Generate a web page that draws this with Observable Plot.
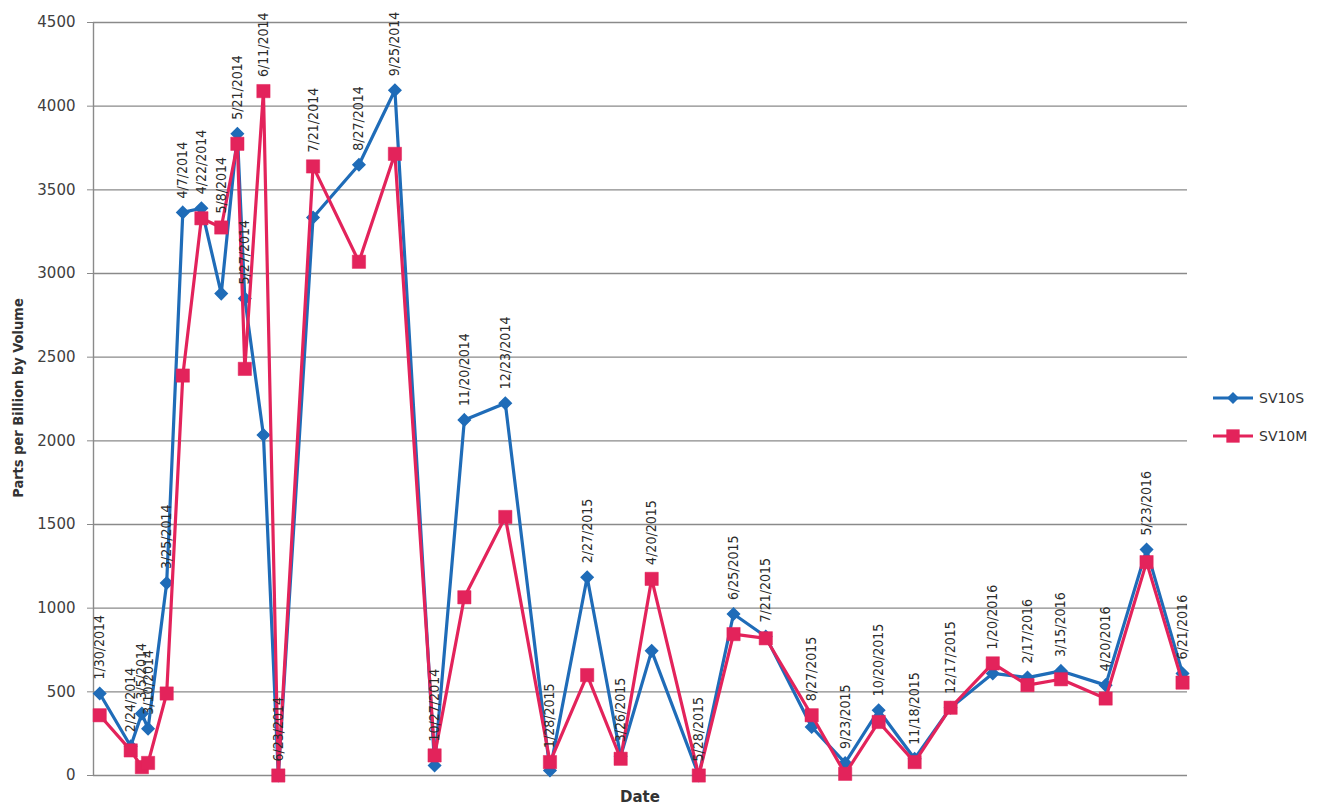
<!DOCTYPE html>
<html>
<head>
<meta charset="utf-8">
<script src="https://cdn.jsdelivr.net/npm/d3@7"></script>
<script src="https://cdn.jsdelivr.net/npm/@observablehq/plot@0.6"></script>
<style>
  html, body { margin: 0; padding: 0; background: #fff; }
  #wrap { position: relative; width: 1327px; height: 809px; overflow: hidden; }
  #chart svg { display: block; }
  .ytitle { position: absolute; left: 18px; top: 398px; transform: translate(-50%, -50%) rotate(-90deg);
            white-space: nowrap; font-family: "DejaVu Sans Condensed", "Liberation Sans Narrow", sans-serif;
            font-weight: bold; font-size: 14.5px; color: #333; }
  .xtitle { position: absolute; left: 640px; top: 797px; transform: translate(-50%, -50%);
            font-family: "DejaVu Sans", sans-serif; font-weight: bold; font-size: 15px; color: #333; }
  #legend { position: absolute; left: 1213px; top: 386px; font-family: "DejaVu Sans", sans-serif;
            font-size: 14px; color: #333; }
  .item { display: flex; align-items: center; height: 24px; margin-bottom: 14px; }
  .item svg { margin-right: 4px; }
</style>
</head>
<body>
<div id="wrap">
  <div id="chart"></div>
  <div class="ytitle">Parts per Billion by Volume</div>
  <div class="xtitle">Date</div>
  <div id="legend"></div>
</div>
<script>
const dates = ["1/30/2014","2/24/2014","3/5/2014","3/10/2014","3/25/2014","4/7/2014","4/22/2014","5/8/2014",
  "5/21/2014","5/27/2014","6/11/2014","6/23/2014","7/21/2014","8/27/2014","9/25/2014","10/27/2014",
  "11/20/2014","12/23/2014","1/28/2015","2/27/2015","3/26/2015","4/20/2015","5/28/2015","6/25/2015",
  "7/21/2015","8/27/2015","9/23/2015","10/20/2015","11/18/2015","12/17/2015","1/20/2016","2/17/2016",
  "3/15/2016","4/20/2016","5/23/2016","6/21/2016"];
const sv10s = [490, 175, 370, 280, 1150, 3365, 3390, 2880, 3835, 2850, 2035, 0, 3335, 3650, 4095, 60,
  2125, 2225, 30, 1185, 115, 745, 0, 965, 830, 290, 75, 390, 100, 405, 610, 585, 625, 540, 1350, 610];
const sv10m = [360, 150, 50, 75, 490, 2390, 3330, 3275, 3775, 2430, 4090, 0, 3640, 3070, 3715, 120,
  1065, 1545, 80, 600, 100, 1175, 0, 845, 820, 360, 10, 320, 80, 405, 670, 540, 575, 460, 1275, 555];
const yTicks = [0, 500, 1000, 1500, 2000, 2500, 3000, 3500, 4000, 4500];
const seriesNames = ["SV10S", "SV10M"];
const seriesColors = ["#1f6cb8", "#e3235b"];
const xRange = ["1/25/2014", "6/25/2016"];

const parse = d3.utcParse("%m/%d/%Y");
const rows = dates.map((d, i) => ({
  label: d, date: parse(d), s: sv10s[i], m: sv10m[i], top: Math.max(sv10s[i], sv10m[i])
}));
const xDomain = xRange.map(parse);

const chart = Plot.plot({
  width: 1200, height: 809,
  marginLeft: 93, marginRight: 13, marginTop: 22, marginBottom: 34,
  x: {type: "utc", domain: xDomain, axis: null},
  y: {domain: [0, 4500], axis: null},
  style: {background: "#fff", fontFamily: "DejaVu Sans, sans-serif"},
  marks: [
    Plot.gridY(yTicks, {stroke: "#8a8a8a", strokeOpacity: 1, strokeWidth: 1.4}),
    Plot.ruleX([xDomain[0]], {stroke: "#8a8a8a", strokeWidth: 1.4}),
    Plot.axisY(yTicks, {tickSize: 6, tickPadding: 12, label: null, stroke: "#8a8a8a",
      tickFormat: d3.format("d"),
      fill: "#404040", fontSize: 15, fontFamily: "DejaVu Sans, sans-serif"}),
    Plot.line(rows, {x: "date", y: "s", stroke: seriesColors[0], strokeWidth: 3.2}),
    Plot.dot(rows, {x: "date", y: "s", symbol: "diamond2", r: 5.4, fill: seriesColors[0], stroke: seriesColors[0]}),
    Plot.line(rows, {x: "date", y: "m", stroke: seriesColors[1], strokeWidth: 3.2}),
    Plot.dot(rows, {x: "date", y: "m", symbol: "square", r: 7.5, fill: seriesColors[1], stroke: seriesColors[1], strokeWidth: 0.5}),
    Plot.text(rows, {x: "date", y: "top", text: "label", rotate: -90, textAnchor: "start", dy: -14,
      fontSize: 14, fontFamily: "DejaVu Sans Condensed, Liberation Sans Narrow, sans-serif", fill: "#2b2b2b"})
  ]
});
document.getElementById("chart").appendChild(chart);

const legend = d3.select("#legend");
seriesNames.forEach((name, i) => {
  const item = legend.append("div").attr("class", "item");
  const svg = item.append("svg").attr("width", 42).attr("height", 20);
  svg.append("line").attr("x1", 0).attr("x2", 40).attr("y1", 10).attr("y2", 10)
    .attr("stroke", seriesColors[i]).attr("stroke-width", 3.2);
  if (i === 0) {
    svg.append("path").attr("d", d3.symbol(d3.symbolDiamond2, 5.4 * 5.4 * Math.PI)())
      .attr("transform", "translate(20,10)").attr("fill", seriesColors[i]);
  } else {
    svg.append("path").attr("d", d3.symbol(d3.symbolSquare, 7.5 * 7.5 * Math.PI)())
      .attr("transform", "translate(20,10)").attr("fill", seriesColors[i]);
  }
  item.append("span").text(name);
});
</script>
</body>
</html>
